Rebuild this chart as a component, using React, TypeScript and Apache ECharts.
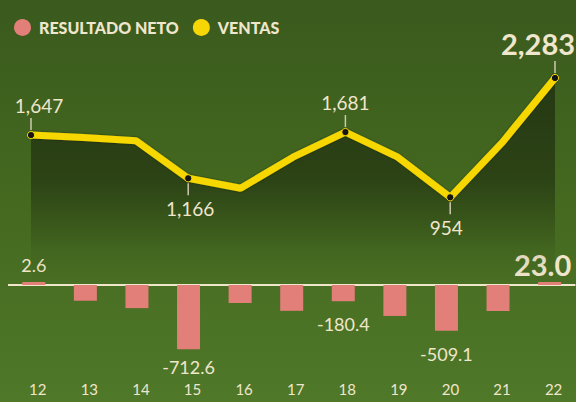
import React, { useEffect, useRef } from "react";
import * as echarts from "echarts";

const categories = ["12", "13", "14", "15", "16", "17", "18", "19", "20", "21", "22"];
const ventas = [1647, 1620, 1585, 1166, 1055, 1401, 1681, 1401, 954, 1569, 2283];
const resultadoNeto = [2.6, -175, -257, -712.6, -200, -287, -180.4, -344, -509.1, -289, 23.0];

const CREAM = "#f0e6cc";
const PINK = "#e27f79";
const YELLOW = "#f6d705";
const FONT = "Lato";

// label config for VENTAS points: index -> placement
const ventasLabels: Record<number, { pos: "top" | "bottom"; dx: number; big?: boolean }> = {
  0: { pos: "top", dx: 8 },
  3: { pos: "bottom", dx: 2 },
  6: { pos: "top", dx: 0 },
  8: { pos: "bottom", dx: -4 },
  10: { pos: "top", dx: 0, big: true },
};

const fmt = (v: number) => v.toLocaleString("en-US");

export default function App() {
  const ref = useRef<HTMLDivElement>(null);
  useEffect(() => {
    if (!ref.current) return;
    const chart = echarts.init(ref.current, null, { renderer: "svg" });

    const barData = resultadoNeto.map((v, i) => {
      const item: any = { value: v };
      if (i === 0) {
        item.label = { show: true, position: "top", distance: 8, fontSize: 18, formatter: v.toFixed(1) };
      } else if (i === 10) {
        item.label = {
          show: true,
          position: "top",
          distance: 3,
          fontSize: 29,
          fontWeight: "bold",
          offset: [-7, 0],
          formatter: v.toFixed(1),
        };
      } else if (i === 3 || i === 6 || i === 8) {
        item.label = {
          show: true,
          position: "bottom",
          distance: i === 3 ? 9 : 14,
          fontSize: 18,
          formatter: v.toFixed(1),
        };
      }
      return item;
    });

    chart.setOption({
      animation: false,
      legend: {
        left: 9,
        top: 14,
        icon: "circle",
        itemWidth: 17,
        itemHeight: 17,
        itemGap: 14,
        selectedMode: false,
        data: [
          { name: "RESULTADO NETO", itemStyle: { color: PINK } },
          { name: "VENTAS", itemStyle: { color: YELLOW } },
        ],
        textStyle: {
          color: CREAM,
          fontFamily: FONT,
          fontSize: 16,
          fontWeight: 900,
          padding: [0, 0, 0, 3],
        },
      },
      grid: [
        { left: 31, right: 21, top: 58.5, bottom: 119 },
        { left: 8, right: 0.6, top: 276, bottom: 27 },
      ],
      xAxis: [
        {
          gridIndex: 0,
          type: "category",
          data: categories,
          boundaryGap: false,
          show: false,
        },
        {
          gridIndex: 1,
          type: "category",
          data: categories,
          boundaryGap: true,
          axisLine: { show: false },
          axisTick: { show: false },
          splitLine: { show: false },
          position: "bottom",
          axisLabel: {
            color: CREAM,
            fontFamily: FONT,
            fontSize: 15,
            margin: 6,
            padding: [0, 0, 0, 8],
          },
        },
      ],
      yAxis: [
        { gridIndex: 0, type: "value", min: 0, max: 2500, show: false },
        { gridIndex: 1, type: "value", min: -1000, max: 100, show: false },
      ],
      series: [
        {
          name: "VENTAS",
          type: "line",
          xAxisIndex: 0,
          yAxisIndex: 0,
          data: ventas,
          symbol: "none",
          z: 3,
          lineStyle: {
            color: YELLOW,
            width: 7,
            shadowColor: "rgba(0,0,0,0.45)",
            shadowBlur: 2,
          },
          itemStyle: { color: YELLOW },
          areaStyle: {
            color: new echarts.graphic.LinearGradient(0, 0, 0, 1, [
              { offset: 0, color: "rgba(22,32,12,0.88)" },
              { offset: 0.5, color: "rgba(22,32,12,0.72)" },
              { offset: 0.85, color: "rgba(22,32,12,0.12)" },
              { offset: 1, color: "rgba(22,32,12,0)" },
            ]),
          },
        },
        {
          name: "VENTAS_LABELS",
          type: "custom",
          xAxisIndex: 0,
          yAxisIndex: 0,
          z: 5,
          data: ventas.map((v, i) => [i, v]),
          renderItem: (params: any, api: any) => {
            const i = params.dataIndex;
            const cfg = ventasLabels[i];
            if (!cfg) return { type: "group", children: [] };
            const pt = api.coord([api.value(0), api.value(1)]);
            const up = cfg.pos === "top";
            const sgn = up ? -1 : 1;
            const children: any[] = [
              {
                type: "line",
                shape: { x1: pt[0], y1: pt[1] + sgn * 5, x2: pt[0], y2: pt[1] + sgn * 17 },
                style: { stroke: "#cfc8b0", lineWidth: 1.5 },
              },
              {
                type: "circle",
                shape: { cx: pt[0], cy: pt[1], r: 3.6 },
                style: { fill: "#151515", stroke: YELLOW, lineWidth: 1 },
              },
            ];
            if (cfg.big) {
              children.push({
                type: "text",
                x: pt[0] - 54,
                y: pt[1] - 34,
                style: {
                  text: fmt(api.value(1)),
                  fill: CREAM,
                  font: `bold 29px ${FONT}`,
                  align: "left",
                  verticalAlign: "middle",
                },
              });
            } else {
              children.push({
                type: "text",
                x: pt[0] + cfg.dx,
                y: pt[1] + sgn * 30,
                style: {
                  text: fmt(api.value(1)),
                  fill: CREAM,
                  font: `19px ${FONT}`,
                  align: "center",
                  verticalAlign: "middle",
                },
              });
            }
            return { type: "group", children };
          },
        },
        {
          name: "RESULTADO NETO",
          type: "bar",
          xAxisIndex: 1,
          yAxisIndex: 1,
          data: barData,
          barWidth: 23,
          barMinHeight: 3,
          clip: false,
          itemStyle: { color: PINK },
          label: {
            show: false,
            color: CREAM,
            fontFamily: FONT,
          },
          markLine: {
            silent: true,
            symbol: ["none", "none"],
            label: { show: false },
            lineStyle: { color: CREAM, width: 2, type: "solid" },
            data: [{ yAxis: 0 }],
            z: 1,
          },
        },
      ],
    });
    return () => chart.dispose();
  }, []);

  return (
    <div
      ref={ref}
      style={{
        position: "fixed",
        left: 0,
        top: 0,
        width: 576,
        height: 402,
        background: "linear-gradient(180deg, #3a5a1e 0%, #44691f 50%, #4f7829 100%)",
      }}
    />
  );
}
